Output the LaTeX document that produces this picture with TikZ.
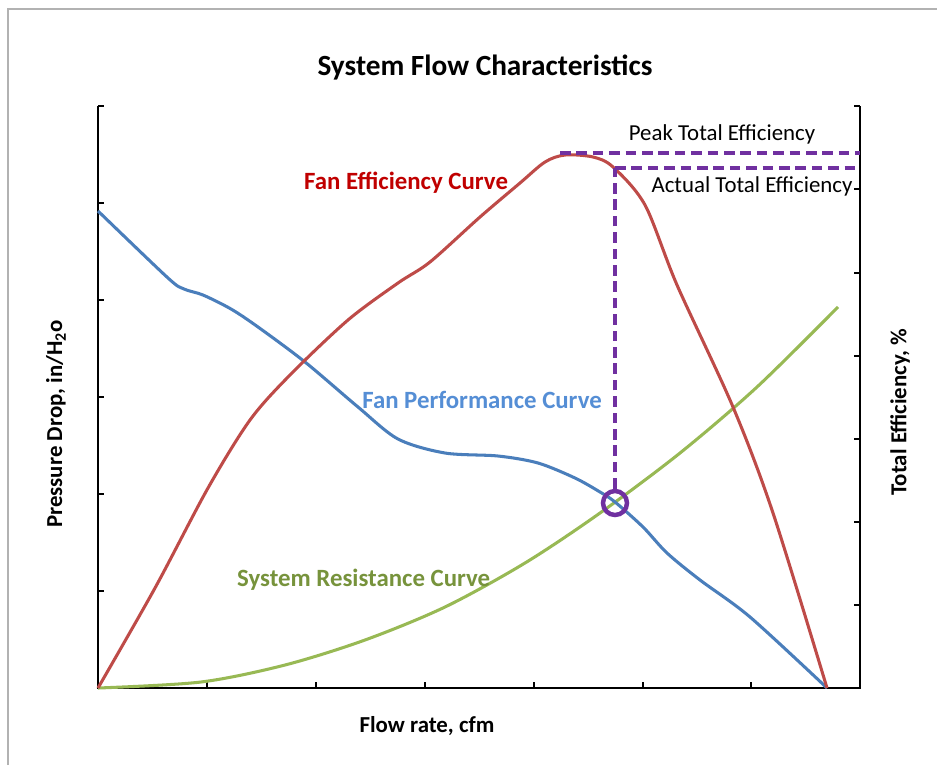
\documentclass[tikz,border=0pt]{standalone}
\usepackage{fontspec}
\setmainfont{Carlito}
\usepackage{xcolor}
\usetikzlibrary{positioning}
\usetikzlibrary{calc}

\definecolor{perfblue}{HTML}{4A7EBB}
\definecolor{effred}{HTML}{BE4B48}
\definecolor{sysgreen}{HTML}{98B954}
\definecolor{perftext}{HTML}{558ED5}
\definecolor{efftext}{HTML}{C00000}
\definecolor{systext}{HTML}{77933C}
\definecolor{oppurple}{HTML}{7030A0}

\begin{document}
\begin{tikzpicture}[x=0.3mm,y=-0.3mm,
    curve/.style={line width=2.6pt,line join=round},
    axis line/.style={line width=1.7pt},
    guide/.style={oppurple,line width=2.8pt,dash pattern=on 9pt off 5pt},
    op node/.style={circle,draw=oppurple,line width=3.8pt,minimum size=7.2mm,inner sep=0pt},
    title font/.style={font=\fontsize{25}{30}\selectfont\bfseries},
    axis font/.style={font=\fontsize{19.5}{23}\selectfont\bfseries},
    curve font/.style={font=\fontsize{21.2}{25}\selectfont\bfseries},
    note font/.style={font=\fontsize{19.5}{23}\selectfont}]
  \useasboundingbox (0,0) rectangle (937,765);
  \draw[gray!60,line width=1.4pt] (8,765) -- (8,9) -- (937,9);

  \draw[axis line] (98,106) -- (98,688) -- (860,688) -- (860,106);
  \foreach \i in {1,...,6}
    \draw[axis line] (98,688-\i*97) -- (104,688-\i*97);
  \foreach \i in {1,...,7}
    \draw[axis line] (98+\i*108.9,688) -- (98+\i*108.9,682);
  \foreach \i in {1,...,7}
    \draw[axis line] (860,688-\i*83.1) -- (854,688-\i*83.1);

  \draw[curve,sysgreen] plot[smooth] coordinates {(98,688) (201,682) (285,665)
    (365,640) (445,607) (525,563) (600,513) (680,453) (757,387) (838,307)};
  \draw[curve,perfblue] plot[smooth] coordinates {(98,211) (168,278)
    (184,289) (203,295) (231,309) (258,327) (305,362) (358,407) (398,439)
    (445,453) (498,456) (538,463) (575,478) (600,492) (615,502) (643,527)
    (667,553) (700,580) (750,617) (827,688)};
  \draw[curve,effred] plot[smooth] coordinates {(98,688) (155,588) (208,488)
    (250,420) (290,375) (348,320) (398,283) (430,262) (480,217)
    (520,183) (545,162) (565,155) (593,157) (613,167) (645,205) (677,285)
    (733,407) (773,513) (827,688)};

  \node[op node] (op) at (615,503) {};
  \coordinate (act) at (615,168);
  \coordinate (actend) at (860,168);
  \coordinate (peak) at (560,153);
  \coordinate (peakend) at (860,153);
  \path[guide]
    (op) edge (act)
    (act) edge (actend)
    (peak) edge (peakend);

  \node[title font] (title) at (485,68) {System Flow Characteristics};
  \node[axis font] (xlabel) at (427,726) {Flow rate, cfm};
  \node[axis font,rotate=90] (ylabel) at (56,424) {Pressure Drop, in/H\textsubscript{2}o};
  \node[axis font,rotate=90] (y2label) at (900,412) {Total Efficiency, \%};

  \node[note font] (peaklabel) at (722,134) {Peak Total Efficiency};
  \node[note font] (actlabel) at (752,186) {Actual Total Efficiency};
  \node[curve font,efftext,anchor=west] (efflabel) at (300,183) {Fan Efficiency Curve};
  \node[curve font,perftext,anchor=east] (perflabel) at (606,400) {Fan Performance Curve};
  \node[curve font,systext,anchor=west] (syslabel) at (233,580) {System Resistance Curve};
\end{tikzpicture}
\end{document}
